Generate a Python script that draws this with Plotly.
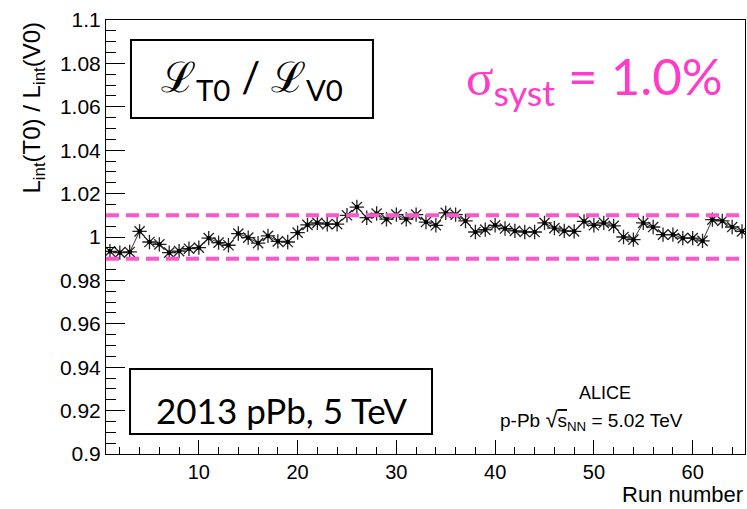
import plotly.graph_objects as go

# ---- data ----
runs = list(range(1, 66))
ratio = [
    0.9934, 0.9928, 0.9931, 1.0026, 0.9977, 0.9966, 0.9928, 0.9935, 0.9946, 0.9951,
    0.9995, 0.9974, 0.9962, 1.0016, 0.9997, 0.9972, 1.0005, 0.9980, 0.9977, 1.0020,
    1.0056, 1.0065, 1.0059, 1.0059, 1.0100, 1.0138, 1.0089, 1.0108, 1.0082, 1.0103,
    1.0082, 1.0103, 1.0069, 1.0054, 1.0111, 1.0103, 1.0074, 1.0023, 1.0034, 1.0054,
    1.0039, 1.0028, 1.0023, 1.0023, 1.0065, 1.0041, 1.0028, 1.0026, 1.0072, 1.0054,
    1.0065, 1.0051, 1.0000, 0.9988, 1.0065, 1.0046, 1.0011, 1.0011, 0.9995, 0.9995,
    0.9982, 1.0080, 1.0074, 1.0046, 1.0026,
]
syst_upper = 1.01
syst_lower = 0.99
ytick_vals = [0.9, 0.92, 0.94, 0.96, 0.98, 1.0, 1.02, 1.04, 1.06, 1.08, 1.1]
ytick_text = ["0.9", "0.92", "0.94", "0.96", "0.98", "1", "1.02", "1.04", "1.06", "1.08", "1.1"]
xtick_vals = [10, 20, 30, 40, 50, 60]
xtick_text = ["10", "20", "30", "40", "50", "60"]

PINK_LINE = "#ff55cc"
PINK_TEXT = "#ff3cc8"
SANS = "Liberation Sans, Arial, sans-serif"
TICKFONT = dict(family=SANS, size=21, color="black")
XTICKFONT = dict(family=SANS, size=20, color="black")
GOTHIC = "Lato, 'Open Sans', sans-serif"

fig = go.Figure()

fig.add_trace(go.Scatter(
    x=runs, y=ratio, mode="lines+markers",
    line=dict(color="black", width=0.8),
    marker=dict(symbol="asterisk-open", size=12, color="#222222",
                line=dict(color="#222222", width=1.3)),
    showlegend=False, hoverinfo="skip",
))
fig.add_trace(go.Scatter(
    x=runs, y=ratio, mode="markers",
    marker=dict(symbol="square", size=4, color="black"),
    showlegend=False, hoverinfo="skip",
))

for yv in (syst_upper, syst_lower):
    fig.add_shape(type="line", xref="paper", yref="y", x0=0, x1=1, y0=yv, y1=yv,
                  line=dict(color=PINK_LINE, width=4, dash="13px,7px"))

# text boxes
fig.add_shape(type="rect", xref="paper", yref="paper",
              x0=0.0391, x1=0.4178, y0=0.7742, y1=0.9539,
              line=dict(color="black", width=2), fillcolor="white", layer="above")
fig.add_shape(type="rect", xref="paper", yref="paper",
              x0=0.0376, x1=0.5102, y0=0.0461, y1=0.1959,
              line=dict(color="black", width=2), fillcolor="white", layer="above")

ann = []
ann.append(dict(
    text="<span style='font-family:DejaVu Serif'>ℒ</span><sub>T0</sub>"
         " / <span style='font-family:DejaVu Serif'>ℒ</span><sub>V0</sub>",
    x=0.2285, y=0.8641, xref="paper", yref="paper", showarrow=False,
    xanchor="center", yanchor="middle",
    font=dict(family=GOTHIC, size=42, color="black")))
ann.append(dict(
    text="<span style='font-family:Liberation Serif'>σ</span><sub>syst</sub> = 1.0%",
    x=0.765, y=0.862, xref="paper", yref="paper", showarrow=False,
    xanchor="center", yanchor="middle",
    font=dict(family=GOTHIC, size=51, color=PINK_TEXT)))
ann.append(dict(
    text="2013 pPb, 5 TeV", x=0.2739, y=0.1014, xref="paper", yref="paper",
    showarrow=False, xanchor="center", yanchor="middle",
    font=dict(family=GOTHIC, size=35, color="black")))
ann.append(dict(
    text="ALICE", x=0.781, y=0.1406, xref="paper", yref="paper",
    showarrow=False, xanchor="center", yanchor="middle",
    font=dict(family=SANS, size=18, color="black")))
ann.append(dict(
    text="p-Pb <span style='font-size:22px'>√</span><span style='text-decoration:overline'>s</span><sub>NN</sub> = 5.02 TeV",
    x=0.759, y=0.078, xref="paper", yref="paper",
    showarrow=False, xanchor="center", yanchor="middle",
    font=dict(family=SANS, size=19, color="black")))
ann.append(dict(
    text="Run number", x=1.0, y=-0.094, xref="paper", yref="paper",
    showarrow=False, xanchor="right", yanchor="middle",
    font=dict(family=SANS, size=22, color="black")))
ann.append(dict(
    text="L<sub>int</sub>(T0) / L<sub>int</sub>(V0)", x=-0.115, y=1.0,
    xref="paper", yref="paper", showarrow=False, textangle=-90,
    xanchor="center", yanchor="top",
    font=dict(family=SANS, size=24, color="black")))

fig.update_layout(
    width=747, height=509,
    margin=dict(l=106, r=2, t=20, b=55),
    paper_bgcolor="white", plot_bgcolor="white",
    annotations=ann,
    xaxis=dict(range=[0.6, 65.3], showgrid=False, zeroline=False,
               showline=True, linecolor="black", linewidth=1, mirror=True,
               ticks="inside", ticklen=14, tickwidth=1, tickcolor="black",
               tickvals=xtick_vals, ticktext=xtick_text, tickfont=XTICKFONT,
               minor=dict(dtick=2, tick0=0, ticks="inside", ticklen=7,
                          tickcolor="black", tickwidth=1, showgrid=False)),
    yaxis=dict(range=[0.9, 1.1], showgrid=False, zeroline=False,
               showline=True, linecolor="black", linewidth=1, mirror=True,
               ticks="inside", ticklen=19, tickwidth=1, tickcolor="black",
               tickvals=ytick_vals, ticktext=ytick_text, tickfont=TICKFONT,
               minor=dict(dtick=0.005, tick0=0.9, ticks="inside", ticklen=10,
                          tickcolor="black", tickwidth=1, showgrid=False)),
)

fig.write_html("out.html")
